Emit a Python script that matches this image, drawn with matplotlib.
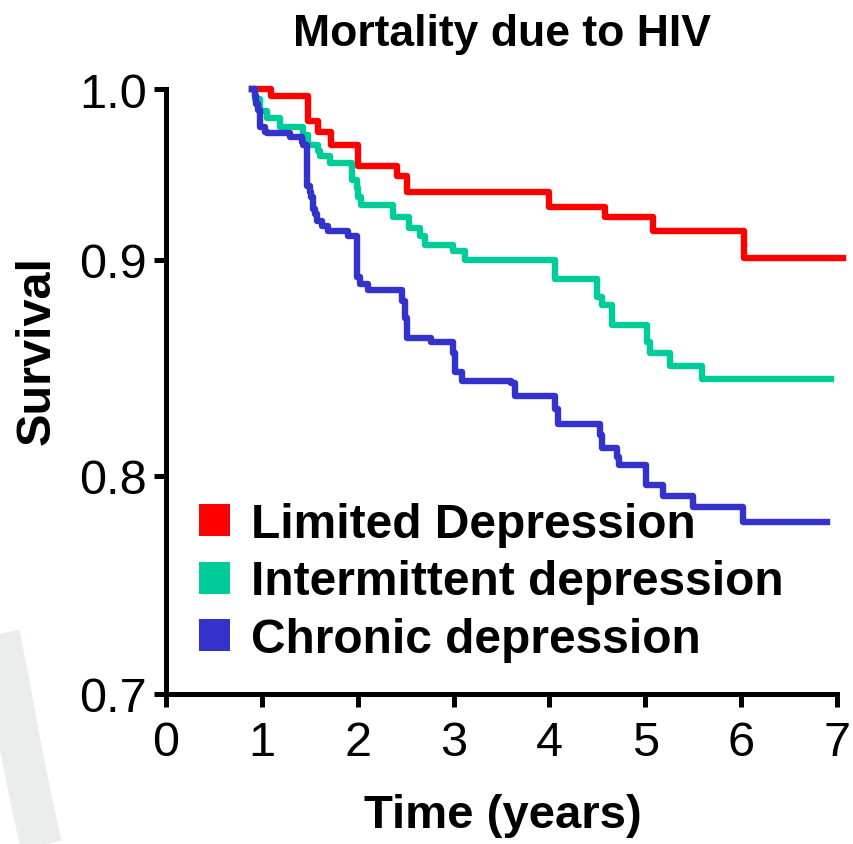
import numpy as np
import matplotlib
matplotlib.use("Agg")
import matplotlib.pyplot as plt
from matplotlib.patches import Patch
from matplotlib.lines import Line2D

plt.rcParams['font.family'] = ['Liberation Sans', 'DejaVu Sans']

#---------------------------------------------------------------------------
# survival curves (time in years, survival fraction)
limited_t = [0.9, 1.1, 1.48, 1.59, 1.72, 2.0, 2.41, 2.51, 4.0, 4.58, 5.08, 6.03, 7.06]
limited_s = [1.0, 0.996, 0.981, 0.975, 0.967, 0.955, 0.949, 0.940, 0.931, 0.925, 0.917, 0.901, 0.901]

intermittent_t = [0.9, 0.93, 0.98, 1.05, 1.19, 1.43, 1.48, 1.585, 1.61, 1.71, 1.94, 1.99, 2.0,
                  2.03, 2.37, 2.54, 2.65, 2.70, 2.99, 3.12, 4.06, 4.50, 4.55, 4.65, 5.02, 5.05,
                  5.26, 5.59, 6.94]
intermittent_s = [1.0, 0.994, 0.987, 0.983, 0.978, 0.973, 0.967, 0.964, 0.961, 0.957, 0.947, 0.942, 0.937,
                  0.932, 0.925, 0.919, 0.914, 0.909, 0.905, 0.900, 0.891, 0.883, 0.879, 0.870, 0.862, 0.857,
                  0.851, 0.845, 0.845]

chronic_t = [0.9, 0.93, 0.94, 0.96, 0.98, 1.03, 1.05, 1.29, 1.42, 1.43, 1.47, 1.50, 1.51, 1.53,
             1.55, 1.58, 1.63, 1.69, 1.90, 1.99, 2.02, 2.11, 2.46, 2.49, 2.51, 2.76, 2.99, 3.01,
             3.09, 3.60, 3.64, 4.06, 4.09, 4.53, 4.55, 4.70, 4.73, 5.01, 5.19, 5.50, 6.02, 6.90]
chronic_s = [1.0, 0.996, 0.991, 0.988, 0.978, 0.975, 0.974, 0.972, 0.969, 0.967, 0.943, 0.940, 0.937, 0.930,
             0.927, 0.923, 0.920, 0.917, 0.914, 0.892, 0.889, 0.886, 0.881, 0.873, 0.864, 0.862, 0.857, 0.848,
             0.844, 0.843, 0.837, 0.831, 0.824, 0.819, 0.813, 0.809, 0.805, 0.796, 0.791, 0.786, 0.779, 0.779]

labels = ["Limited Depression", "Intermittent depression", "Chronic depression"]
colors = ["#FF0000", "#00CC99", "#3333CC"]

x_ticks = [0, 1, 2, 3, 4, 5, 6, 7]
y_ticks = [0.7, 0.8, 0.9, 1.0]

# the y axis of the original is not evenly spaced (top decade is squeezed)
scale_vals = [0.7, 0.8, 0.9, 1.0]
scale_pos = [0.0, 218.0, 434.0, 605.0]


def fwd(y):
    y = np.asarray(y, dtype=float)
    out = np.interp(y, scale_vals, scale_pos)
    lo = y < scale_vals[0]
    hi = y > scale_vals[-1]
    out = np.where(lo, scale_pos[0] + (y - scale_vals[0]) * 2180.0, out)
    out = np.where(hi, scale_pos[-1] + (y - scale_vals[-1]) * 1710.0, out)
    return out


def inv(p):
    p = np.asarray(p, dtype=float)
    out = np.interp(p, scale_pos, scale_vals)
    lo = p < scale_pos[0]
    hi = p > scale_pos[-1]
    out = np.where(lo, scale_vals[0] + (p - scale_pos[0]) / 2180.0, out)
    out = np.where(hi, scale_vals[-1] + (p - scale_pos[-1]) / 1710.0, out)
    return out


#---------------------------------------------------------------------------
fig = plt.figure(figsize=(8.54, 8.45), dpi=100)
ax = fig.add_axes([166 / 854, 1 - 695 / 845, 671 / 854, 605 / 845])

# faint watermark arc in the lower left corner
fig.add_artist(Line2D(np.array([-6, 8, 20, 31, 42]) / 854,
                      1 - np.array([610, 680, 745, 800, 850]) / 845,
                      transform=fig.transFigure, color="#ebeded", lw=30,
                      solid_capstyle="butt", zorder=-10))

curves = [(limited_t, limited_s), (intermittent_t, intermittent_s), (chronic_t, chronic_s)]
for (t, s), c in zip(curves, colors):
    ax.step(t, s, where="post", color=c, lw=4.6, clip_on=False, zorder=3)

ax.set_yscale("function", functions=(fwd, inv))
ax.set_xlim(0, 7)
ax.set_ylim(0.7, 1.0)
ax.set_xticks(x_ticks)
ax.set_xticklabels([str(v) for v in x_ticks])
ax.set_yticks(y_ticks)
ax.set_yticklabels([f"{v:.1f}" for v in y_ticks])
ax.minorticks_off()

for side in ["top", "right"]:
    ax.spines[side].set_visible(False)
for side in ["left", "bottom"]:
    ax.spines[side].set_linewidth(3.6)
ax.tick_params(axis="both", direction="out", length=9, width=3.6, labelsize=35)
ax.tick_params(axis="x", pad=10)
ax.tick_params(axis="y", pad=5)

ax.set_title("Mortality due to HIV", fontsize=32, fontweight="bold", pad=32)
ax.set_xlabel("Time (years)", fontsize=34, fontweight="bold")
ax.set_ylabel("Survival", fontsize=35, fontweight="bold")
ax.xaxis.set_label_coords(0.502, -0.163)
ax.yaxis.set_label_coords(-0.158, 0.57)

handles = [Patch(facecolor=c, edgecolor="none") for c in colors]
ax.legend(handles, labels, loc="upper left", bbox_to_anchor=(199 / 854, 1 - 503 / 845),
          bbox_transform=fig.transFigure, frameon=False,
          prop={"weight": "bold", "size": 34.5}, handlelength=0.65, handleheight=0.65,
          handletextpad=0.44, labelspacing=0.26, borderpad=0, borderaxespad=0)

fig.savefig("out.png", dpi=100)
